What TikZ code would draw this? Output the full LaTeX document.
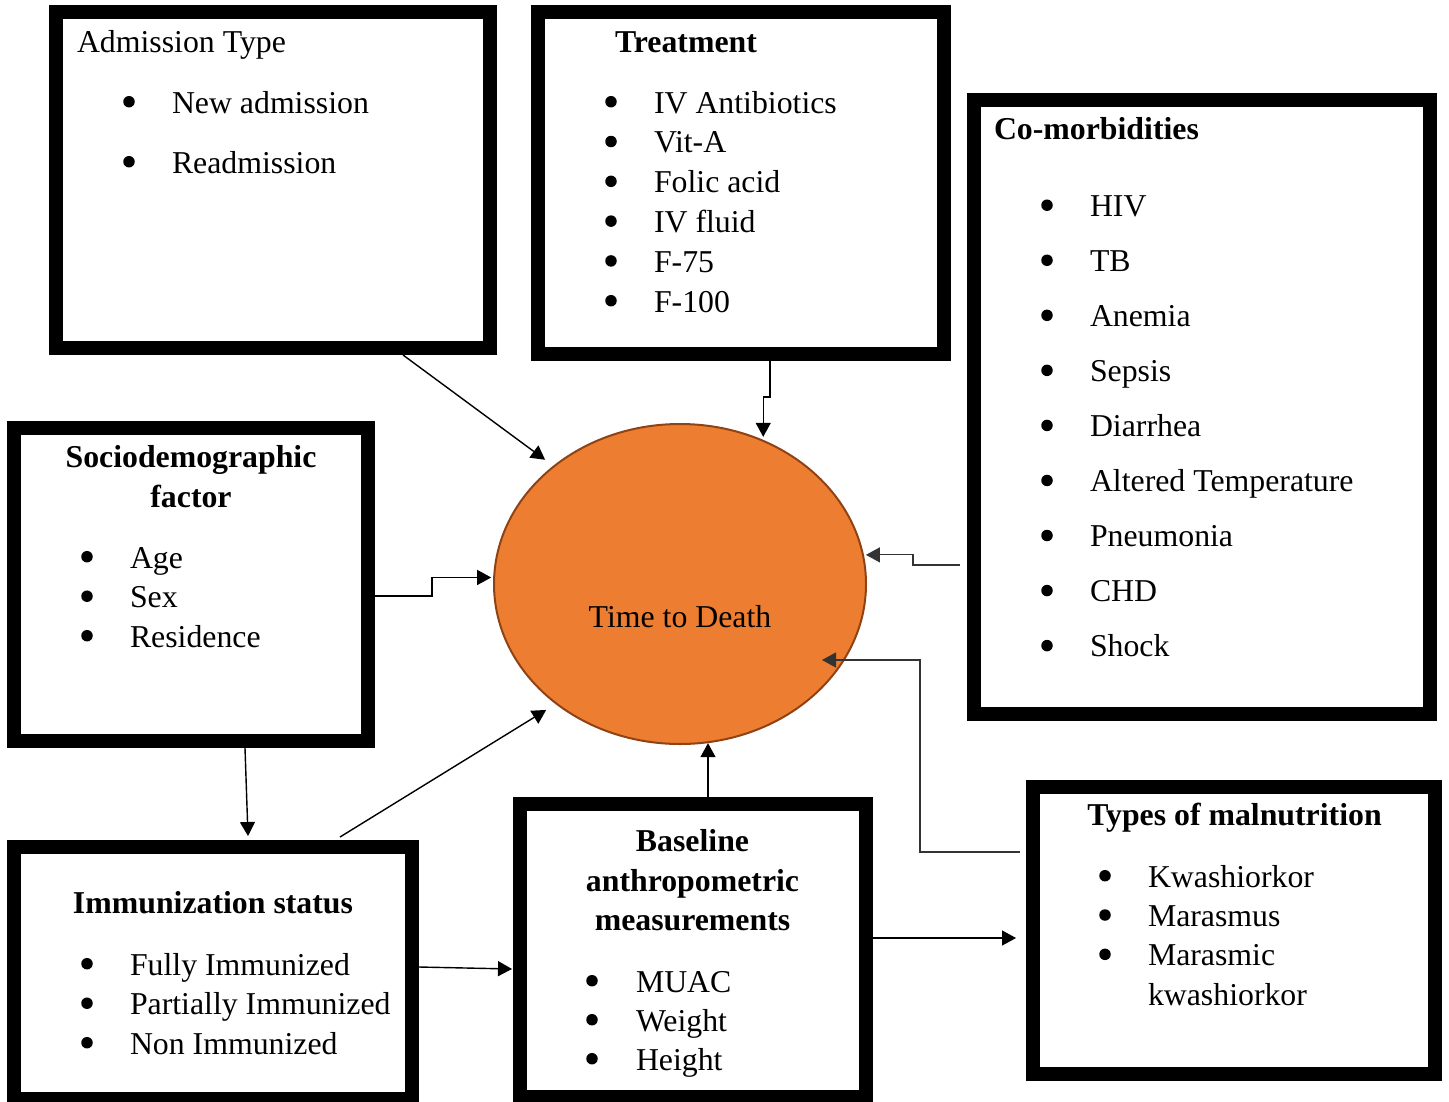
\documentclass[tikz,border=0pt]{standalone}
\usepackage{fontspec}
\setmainfont{Liberation Serif}
\usetikzlibrary{arrows.meta,calc,shapes.geometric}
\definecolor{ttdfill}{HTML}{ED7D31}
\definecolor{ttdline}{HTML}{8F4314}
\begin{document}
\begin{tikzpicture}[x=1pt,y=-1pt,
  every node/.style={font=\fontsize{31.8pt}{38pt}\selectfont, inner sep=0pt, outer sep=0pt},
  frame/.style={draw=black, line width=14pt, rectangle, inner sep=0pt, outer sep=7pt},
  arr/.style={-{Triangle[length=14pt,width=15pt]}, line width=1.4pt},
  arrthin/.style={-{Triangle[length=14pt,width=15pt]}, line width=1.1pt, draw=black!80},
  bul/.style={circle, fill=black, minimum size=11.5pt, yshift=11.3pt},
  itm/.style={anchor=base west},
  ttl/.style={font=\fontsize{31.8pt}{38pt}\selectfont\bfseries}]
\useasboundingbox (0,0) rectangle (1449,1101);

% frames
\node[frame, minimum width=434pt, minimum height=336pt] (adm) at (273,180) {};
\node[frame, minimum width=406pt, minimum height=342pt] (trt) at (741,183) {};
\node[frame, minimum width=456pt, minimum height=614pt] (com) at (1202,407) {};
\node[frame, minimum width=354pt, minimum height=313pt] (soc) at (191,584.5) {};
\node[frame, minimum width=398pt, minimum height=252pt] (imm) at (213,973) {};
\node[frame, minimum width=346pt, minimum height=293pt] (bas) at (693,950.5) {};
\node[frame, minimum width=402pt, minimum height=287pt] (typ) at (1234,930.5) {};

% central ellipse
\node[ellipse, draw=ttdline, fill=ttdfill, line width=2pt, minimum width=372pt,
      minimum height=320pt, outer sep=1pt] (ell) at (680,584) {};
\node[anchor=base] (ttd) at (680,627) {Time to Death};

% Admission type
\node[anchor=base west] (adm-t) at (77,52) {Admission Type};
\foreach \t [count=\i] in {New admission,Readmission}{
  \node[bul] (adm-b\i) at (129,{113+60*(\i-1)}) {};
  \node[itm] (adm-i\i) at (172,{113+60*(\i-1)}) {\t};
}

% Treatment
\node[ttl, anchor=base west] (trt-t) at (615,52) {Treatment};
\foreach \t [count=\i] in {IV Antibiotics,Vit-A,Folic acid,IV fluid,F-75,F-100}{
  \node[bul] (trt-b\i) at (611,{113+39.8*(\i-1)}) {};
  \node[itm] (trt-i\i) at (654,{113+39.8*(\i-1)}) {\t};
}

% Co-morbidities
\node[ttl, anchor=base west] (com-t) at (994,139) {Co-morbidities};
\foreach \t [count=\i] in {HIV,TB,Anemia,Sepsis,Diarrhea,Altered Temperature,Pneumonia,CHD,Shock}{
  \node[bul] (com-b\i) at (1047,{216.5+55.05*(\i-1)}) {};
  \node[itm] (com-i\i) at (1090,{216.5+55.05*(\i-1)}) {\t};
}

% Sociodemographic
\node[ttl, anchor=base] (soc-t1) at (191,467) {Sociodemographic};
\node[ttl, anchor=base] (soc-t2) at (191,507) {factor};
\foreach \t [count=\i] in {Age,Sex,Residence}{
  \node[bul] (soc-b\i) at (87,{568+39.5*(\i-1)}) {};
  \node[itm] (soc-i\i) at (130,{568+39.5*(\i-1)}) {\t};
}

% Immunization
\node[ttl, anchor=base] (imm-t) at (213,913) {Immunization status};
\foreach \t [count=\i] in {Fully Immunized,Partially Immunized,Non Immunized}{
  \node[bul] (imm-b\i) at (87,{975+39.5*(\i-1)}) {};
  \node[itm] (imm-i\i) at (130,{975+39.5*(\i-1)}) {\t};
}

% Baseline anthropometric
\node[ttl, anchor=base] (bas-t1) at (692.5,851) {Baseline};
\node[ttl, anchor=base] (bas-t2) at (692.5,891) {anthropometric};
\node[ttl, anchor=base] (bas-t3) at (692.5,930) {measurements};
\foreach \t [count=\i] in {MUAC,Weight,Height}{
  \node[bul] (bas-b\i) at (592,{992+39*(\i-1)}) {};
  \node[itm] (bas-i\i) at (636,{992+39*(\i-1)}) {\t};
}

% Types of malnutrition
\node[ttl, anchor=base] (typ-t) at (1234.5,825) {Types of malnutrition};
\foreach \t [count=\i] in {Kwashiorkor,Marasmus,Marasmic}{
  \node[bul] (typ-b\i) at (1105,{887+39.3*(\i-1)}) {};
  \node[itm] (typ-i\i) at (1148,{887+39.3*(\i-1)}) {\t};
}
\node[itm] (typ-i4) at (1148,1005) {kwashiorkor};

% connectors
\draw[arr, shorten >=10pt] ([xshift=130pt]adm.south) -- (ell.137);
\draw[arr] ([xshift=29pt]trt.south) -- ++(0,36) -| ([yshift=3pt]ell.60.5);
\draw[arrthin, shorten <=7pt] ([yshift=-158pt]com.west) -- ++(-54,0) |- ([xshift=2pt]ell.9);
\draw[arr] ([yshift=-11.5pt]soc.east) -- ++(57,0) |- ([xshift=-2pt]ell.178);
\draw[arrthin, shorten <=6pt] ([yshift=78.5pt]typ.west) -- ++(-106,0) |- ([xshift=142pt,yshift=-76pt]ell.center);
\coordinate (b6) at ([xshift=15pt]bas.north);
\draw[arr] (b6) -- (b6 |- ell.280);
\draw[arr, shorten >=11pt] ([xshift=127pt,yshift=3pt]imm.north) -- (ell.224);
\draw[arr] ([xshift=54pt]soc.south) -- ([xshift=35pt,yshift=4pt]imm.north);
\draw[arr] ([yshift=6pt]imm.east) -- ([yshift=-18.5pt,xshift=-1pt]bas.west);
\coordinate (b10) at ([yshift=12.5pt]bas.east);
\draw[arr, shorten >=10pt] (b10) -- (b10 -| typ.west);
\end{tikzpicture}
\end{document}
